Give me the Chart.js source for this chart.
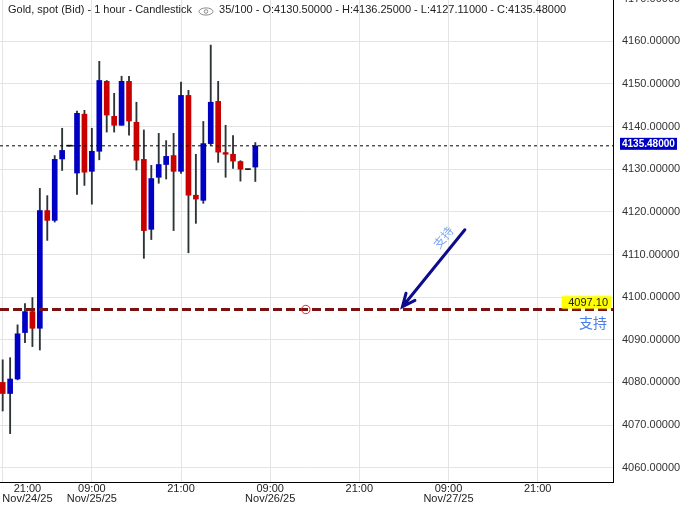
<!DOCTYPE html>
<html>
<head>
<meta charset="utf-8">
<script src="https://cdn.jsdelivr.net/npm/chart.js@4.4.0/dist/chart.umd.min.js"></script>
<style>
  body { margin: 0; background: #fff; }
  #chart { display: block; }
</style>
</head>
<body>
<canvas id="chart" width="685" height="506"></canvas>
<script>
// Gold spot, 1 hour candles. Hour 0 = 21:00 Nov/24/25
const openPrices  = [4080.0, 4077.4, 4080.8, 4091.7, 4096.6, 4092.7, 4120.3, 4118.0, 4132.4, 4135.4,
                     4129.1, 4142.9, 4129.5, 4134.2, 4150.6, 4142.4, 4140.3, 4150.6, 4141.0, 4132.3,
                     4115.9, 4128.1, 4131.1, 4133.2, 4129.5, 4147.3, 4123.9, 4122.7, 4136.0, 4145.9,
                     4133.9, 4133.5, 4131.8, 4129.9, 4130.5];
const highPrices  = [4085.3, 4085.8, 4093.5, 4098.5, 4099.9, 4125.5, 4123.8, 4133.2, 4139.6, 4135.4,
                     4143.6, 4143.8, 4139.6, 4155.3, 4150.8, 4147.8, 4151.8, 4151.8, 4145.7, 4139.2,
                     4130.9, 4138.4, 4136.7, 4138.4, 4150.4, 4148.5, 4133.5, 4141.2, 4159.1, 4150.6,
                     4140.3, 4137.9, 4132.0, 4129.9, 4136.25];
const lowPrices   = [4073.3, 4068.0, 4080.6, 4089.3, 4088.4, 4087.6, 4113.3, 4117.6, 4129.7, 4135.4,
                     4124.1, 4126.2, 4121.8, 4132.2, 4138.7, 4138.7, 4140.3, 4138.0, 4129.8, 4109.1,
                     4113.5, 4126.7, 4127.7, 4115.6, 4129.0, 4110.4, 4117.3, 4122.0, 4135.6, 4131.6,
                     4128.1, 4130.2, 4127.2, 4129.9, 4127.11];
const closePrices = [4077.4, 4080.8, 4091.4, 4096.6, 4092.7, 4120.3, 4118.0, 4132.3, 4134.4, 4135.4,
                     4143.1, 4129.3, 4134.2, 4150.8, 4142.7, 4140.3, 4150.6, 4141.3, 4132.1, 4115.6,
                     4127.8, 4131.1, 4133.0, 4129.5, 4147.3, 4123.9, 4123.0, 4136.0, 4145.7, 4134.0,
                     4133.5, 4131.9, 4130.0, 4129.9, 4135.48];

const tickHours = [0, 12, 24, 36, 48, 60, 72];
const tickTimes = ['21:00', '09:00', '21:00', '09:00', '21:00', '09:00', '21:00'];
const tickDates = ['Nov/24/25', 'Nov/25/25', '', 'Nov/26/25', '', 'Nov/27/25', ''];
const priceTicks = [4060, 4070, 4080, 4090, 4100, 4110, 4120, 4130, 4140, 4150, 4160, 4170];

const lastPrice = 4135.48;
const supportLevel = 4097.10;
const supportText = '支持';
const markerHour = 40.8;
const arrowFrom = { x: 62.2, y: 4115.8 };
const arrowTo = { x: 53.8, y: 4097.75 };
const arrowTextAt = { x: 59.3, y: 4114.0 };

const headerText = 'Gold, spot (Bid) - 1 hour - Candlestick';
const headerInfo = '35/100 - O:4130.50000 - H:4136.25000 - L:4127.11000 - C:4135.48000';

// visible window
const xMin = -0.363, xMax = 82.14;
const yMin = 4056.65, yMax = 4169.66;
const firstLabelAt = 3.33; // first date label is pushed inside the plot

const FONT = '"Liberation Sans", Arial, sans-serif';
const UP = '#0000c4', DOWN = '#c80000';

function candleColor(i) {
  if (closePrices[i] > openPrices[i]) return UP;
  if (closePrices[i] < openPrices[i]) return DOWN;
  return '#111';
}

const bodies = openPrices.map((o, i) => ({ x: i, y: [o, closePrices[i]] }));
const wicks = lowPrices.map((l, i) => ({ x: i, y: [l, highPrices[i]] }));

const overlayPlugin = {
  id: 'overlay',
  afterDraw(chart) {
    const { ctx, scales: { x, y } } = chart;
    ctx.save();

    // header line
    ctx.font = '11px ' + FONT;
    ctx.fillStyle = '#222';
    ctx.textBaseline = 'middle';
    ctx.textAlign = 'left';
    ctx.fillText(headerText, 8, 10);
    const w = ctx.measureText(headerText).width;
    const ex = 8 + w + 14, ey = 11.5;
    ctx.strokeStyle = '#8c8c8c';
    ctx.lineWidth = 1;
    ctx.beginPath();
    ctx.ellipse(ex, ey, 7, 3.6, 0, 0, Math.PI * 2);
    ctx.stroke();
    ctx.beginPath();
    ctx.arc(ex, ey, 1.8, 0, Math.PI * 2);
    ctx.stroke();
    ctx.fillText(headerInfo, ex + 13, 10);

    // last price box
    const py = y.getPixelForValue(lastPrice);
    ctx.fillStyle = '#0000c4';
    ctx.fillRect(620, py - 8, 57, 12);
    ctx.fillStyle = '#fff';
    ctx.font = 'bold 10px ' + FONT;
    ctx.fillText(lastPrice.toFixed(5), 622, py - 2);

    // support label
    const sy = y.getPixelForValue(supportLevel);
    ctx.shadowColor = '#ffff00';
    ctx.shadowBlur = 2;
    ctx.fillStyle = '#ffff00';
    ctx.fillRect(562, sy - 13, 49, 12);
    ctx.shadowBlur = 0;
    ctx.fillStyle = '#222';
    ctx.font = '11px ' + FONT;
    ctx.textAlign = 'right';
    ctx.fillText(supportLevel.toFixed(2), 608, sy - 7);
    ctx.fillStyle = '#4a7ee8';
    ctx.font = '14px "Noto Sans CJK SC", sans-serif';
    ctx.fillText(supportText, 607, sy + 13);

    // arrow
    const x0 = x.getPixelForValue(arrowFrom.x), y0 = y.getPixelForValue(arrowFrom.y);
    const x1 = x.getPixelForValue(arrowTo.x), y1 = y.getPixelForValue(arrowTo.y);
    const ang = Math.atan2(y1 - y0, x1 - x0);
    ctx.strokeStyle = '#0c0c8c';
    ctx.lineWidth = 3;
    ctx.lineCap = 'round';
    ctx.beginPath();
    ctx.moveTo(x0, y0);
    ctx.lineTo(x1, y1);
    ctx.moveTo(x1 + 14 * Math.cos(ang + Math.PI - 0.42), y1 + 14 * Math.sin(ang + Math.PI - 0.42));
    ctx.lineTo(x1, y1);
    ctx.lineTo(x1 + 14 * Math.cos(ang + Math.PI + 0.42), y1 + 14 * Math.sin(ang + Math.PI + 0.42));
    ctx.stroke();

    // arrow text
    ctx.translate(x.getPixelForValue(arrowTextAt.x), y.getPixelForValue(arrowTextAt.y));
    ctx.rotate(ang + Math.PI);
    ctx.fillStyle = '#7ea6f2';
    ctx.font = '12px "Noto Sans CJK SC", sans-serif';
    ctx.textAlign = 'center';
    ctx.fillText(supportText, 0, 0);
    ctx.restore();
  }
};

new Chart(document.getElementById('chart'), {
  type: 'bar',
  data: {
    datasets: [
      {
        type: 'line',
        data: [{ x: xMin, y: supportLevel }, { x: markerHour, y: supportLevel }, { x: xMax, y: supportLevel }],
        borderColor: '#7b1212',
        borderWidth: 3,
        borderDash: [9, 4],
        pointRadius: [0, 4.2, 0],
        pointBorderColor: '#e82020',
        pointBackgroundColor: 'rgba(0,0,0,0)',
        pointBorderWidth: 1
      },
      {
        type: 'line',
        data: [{ x: xMin, y: lastPrice }, { x: xMax, y: lastPrice }],
        borderColor: '#000',
        borderWidth: 1,
        borderDash: [3, 3],
        pointRadius: 0
      },
      {
        data: bodies,
        backgroundColor: openPrices.map((o, i) => candleColor(i)),
        barThickness: 5,
        minBarLength: 1,
        grouped: false
      },
      {
        data: wicks,
        backgroundColor: '#2d3436',
        barThickness: 1.2,
        grouped: false
      }
    ]
  },
  options: {
    responsive: false,
    animation: false,
    layout: { padding: 0 },
    plugins: { legend: { display: false }, tooltip: { enabled: false } },
    scales: {
      x: {
        type: 'linear',
        min: xMin,
        max: xMax,
        offset: false,
        grid: {
          offset: false,
          color: (c) => (c.tick && c.tick.value === firstLabelAt) ? 'rgba(0,0,0,0)' : '#e4e4e4',
          tickLength: 2,
          tickColor: 'rgba(0,0,0,0)'
        },
        border: { color: '#000' },
        afterBuildTicks: (scale) => {
          scale.ticks = [{ value: 0 }, { value: firstLabelAt }].concat(tickHours.slice(1).map(v => ({ value: v })));
        },
        afterFit: (scale) => { scale.height = 24; },
        ticks: {
          autoSkip: false,
          maxRotation: 0,
          padding: 0,
          color: '#222',
          font: { family: FONT, size: 11, lineHeight: '10px' },
          callback: (value) => {
            if (value === firstLabelAt) return [tickTimes[0], tickDates[0]];
            if (value === 0) return '';
            const i = tickHours.indexOf(value);
            if (i < 0) return '';
            return tickDates[i] ? [tickTimes[i], tickDates[i]] : tickTimes[i];
          }
        }
      },
      y: {
        type: 'linear',
        position: 'right',
        min: yMin,
        max: yMax,
        grid: { color: '#e4e4e4', tickLength: 9, tickColor: 'rgba(0,0,0,0)' },
        border: { color: '#000' },
        afterBuildTicks: (scale) => { scale.ticks = priceTicks.map(v => ({ value: v })); },
        afterFit: (scale) => { scale.width = 72; },
        ticks: {
          autoSkip: false,
          padding: 0,
          color: '#333',
          font: { family: FONT, size: 11, lineHeight: 0.01 },
          callback: (value) => value.toFixed(5)
        }
      }
    }
  },
  plugins: [overlayPlugin]
});
</script>
</body>
</html>
